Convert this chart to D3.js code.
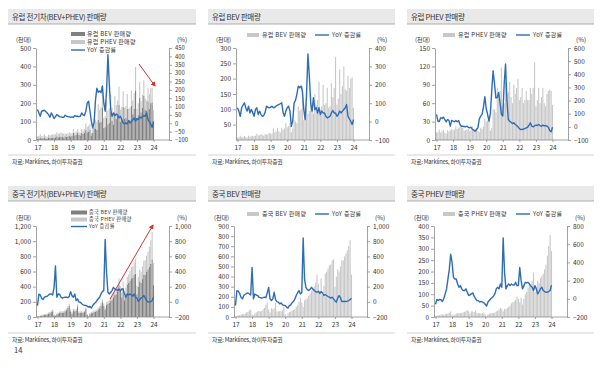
<!DOCTYPE html>
<html><head><meta charset="utf-8">
<script src="https://cdn.jsdelivr.net/npm/d3@7"></script>
<style>
body{margin:0;background:#fff}
svg{display:block}
text{font-family:"Noto Sans CJK KR","Noto Sans",sans-serif;fill:#333}
</style>
</head><body>
<svg id="c" width="600" height="367"></svg>
<script>
// ---------------- DATA ----------------
const months = d3.timeMonth.range(new Date(2017,0,1), new Date(2024,1,1)); // 2017-01 .. 2024-01
const yearLabels = ["17","18","19","20","21","22","23","24"];

// Europe, thousand units
const euBEV = [8,9,14,9,10,13,9,8,14,11,12,14,
  13,14,20,15,16,19,16,14,20,17,19,24,
  20,22,38,25,28,40,28,25,40,33,38,55,
  42,46,55,25,38,65,60,55,110,95,100,175,
  65,70,120,85,95,150,105,85,150,115,130,190,
  100,110,180,115,120,170,105,110,185,140,170,270,
  115,135,230,150,175,240,165,160,210,170,200,205,
  105];
const euPHEV = [12,13,17,12,14,17,12,10,16,14,16,18,
  16,17,22,18,20,22,21,20,15,16,17,18,
  15,16,22,16,17,20,15,13,20,18,22,35,
  30,32,35,15,20,50,50,45,85,70,80,118,
  55,60,95,75,78,95,70,60,90,75,85,100,
  65,70,85,60,65,80,65,65,85,75,85,127,
  55,65,85,60,70,85,60,55,75,80,82,80,
  57];
// YoY, %
const euTotalYoY = [82,62,42,72,75,78,70,62,52,36,62,48,
  28,40,52,46,40,38,36,35,48,42,40,38,
  36,38,35,46,42,42,40,42,62,50,46,72,
  120,132,72,12,-28,5,140,210,185,193,183,223,
  120,72,193,410,233,82,42,62,45,55,50,32,
  42,22,2,-4,2,-4,16,2,8,20,32,12,
  28,22,36,32,40,46,42,62,22,8,-5,-24,
  8];
const euBEVYoY = [75,57,29,75,90,102,75,57,84,47,66,50,
  29,66,75,38,57,38,29,33,50,84,78,75,
  78,84,75,78,84,90,93,97,102,50,29,57,
  75,84,57,-26,5,102,115,148,193,184,193,166,
  66,11,148,367,248,102,57,130,66,75,47,75,
  38,57,47,47,29,20,24,29,47,60,47,47,
  29,38,57,47,57,66,75,93,29,15,2,-16,
  11];
const euPHEVYoY = [95,43,40,69,64,74,56,38,56,49,5,49,
  43,38,49,38,49,18,5,5,3,0,5,-3,
  -8,-3,-20,-25,-33,-20,-8,60,82,95,150,230,
  140,95,43,100,274,427,330,220,223,261,184,95,
  82,325,478,200,56,43,35,25,31,18,10,0,
  -13,-20,-20,-16,-13,-8,-3,13,31,5,0,8,
  13,10,18,10,5,13,8,10,5,-3,-28,-38,
  -3];

// China, thousand units
const cnBEV = [5,8,14,18,22,28,30,35,45,50,65,75,
  22,15,35,45,55,60,55,60,75,90,120,145,
  75,45,85,75,85,140,55,55,60,55,65,105,
  30,8,40,50,55,65,70,80,100,115,150,195,
  145,100,165,175,185,210,230,260,290,300,340,420,
  330,260,380,220,310,430,450,480,510,520,560,570,
  300,400,470,450,500,560,560,600,630,660,700,760,
  420];
const cnPHEV = [4,5,7,8,10,11,10,12,14,15,19,24,
  10,6,12,15,17,18,17,18,20,22,26,30,
  25,15,25,25,22,28,18,18,17,15,17,20,
  10,3,12,15,16,18,17,20,25,28,33,40,
  35,25,35,35,40,45,50,60,65,68,75,90,
  80,65,85,55,80,100,110,130,150,145,160,195,
  110,130,160,150,170,180,190,210,230,270,310,360,
  290];
const cnTotalYoY = [-50,100,91,48,30,61,70,74,91,104,104,91,
  191,474,61,104,100,61,48,55,61,61,55,74,
  135,80,61,104,17,39,-4,-4,-26,-39,-45,-48,
  -57,-70,-60,-83,-48,-26,-10,17,40,61,104,135,
  150,822,387,126,104,126,148,191,170,160,150,170,
  140,170,170,104,61,104,90,104,90,74,104,61,
  48,4,30,48,61,83,50,17,-4,0,0,17,
  61];
const cnBEVYoY = [-48,148,140,110,60,39,83,100,110,117,104,91,
  452,39,104,90,83,60,55,48,55,61,55,120,
  191,40,17,39,126,30,4,-4,-26,-15,-39,-45,
  -48,-70,-83,-50,-39,-10,4,39,83,120,148,104,
  120,843,300,191,160,148,165,191,170,150,135,126,
  140,110,135,120,83,95,83,70,61,50,61,39,
  15,-4,48,83,55,4,4,4,4,10,17,30,
  48];
const cnPHEVYoY = [-60,-7,-18,-7,-10,-29,0,54,109,217,326,489,
  399,236,217,217,163,127,145,109,91,91,109,72,
  36,43,55,65,29,0,-18,-20,-36,-29,-36,-43,
  -60,-80,-36,-18,0,15,29,54,109,127,109,163,
  127,670,290,109,145,163,145,163,152,152,181,145,
  145,344,199,109,145,181,174,181,163,140,127,91,
  145,109,54,80,109,127,91,80,72,72,80,91,
  150];

// ---------------- STYLE ----------------
const C = {blue:"#2e6db4", light:"#c8c8c8", dark:"#808080", axis:"#8c8c8c", band:"#e9e9e9", red:"#d0342c"};
const NUM = '"Liberation Sans",Arial,sans-serif';

const svg = d3.select("#c");

function panel(cfg){
  const g = svg.append("g");
  const x0 = cfg.x0, yt = cfg.yt, yb = cfg.yb;
  const idx = d3.range(months.length);
  const x = d3.scalePoint().domain(idx).range([x0+1.5, x0+117.5]);
  const yL = d3.scaleLinear().domain(cfg.left).range([yb, yt]);
  const yR = d3.scaleLinear().domain(cfg.right).range([yb, yt]);

  // title band
  g.append("rect").attr("x", cfg.bx).attr("y", cfg.by).attr("width", cfg.bw).attr("height", 15).attr("fill", C.band);
  g.append("line").attr("x1", cfg.bx).attr("x2", cfg.bx+cfg.bw).attr("y1", cfg.by+15).attr("y2", cfg.by+15).attr("stroke","#9a9a9a").attr("stroke-width",0.8);
  g.append("text").attr("x", cfg.bx+4).attr("y", cfg.by+10.5).attr("font-size", 7.5).attr("letter-spacing",-0.3).attr("fill","#222").text(cfg.title);

  // bars (stacked)
  const rows = idx.map(i => { const o = {i}; cfg.series.forEach(s => o[s.key] = s.values[i]); return o; });
  const stack = d3.stack().keys(cfg.series.map(s => s.key))(rows);
  const bw = 1.1;
  stack.forEach((layer, k) => {
    g.append("g").attr("fill", cfg.series[k].color)
      .selectAll("rect").data(layer).join("rect")
      .attr("x", d => x(d.data.i) - bw/2).attr("width", bw)
      .attr("y", d => yL(d[1])).attr("height", d => yL(d[0]) - yL(d[1]));
  });

  // axes
  const fmt = d3.format(",");
  const aL = g.append("g").attr("transform", `translate(${x0},0)`)
    .call(d3.axisLeft(yL).tickValues(cfg.leftTicks).tickSize(3).tickSizeOuter(0).tickPadding(2).tickFormat(fmt));
  const aR = g.append("g").attr("transform", `translate(${x0+133},0)`)
    .call(d3.axisRight(yR).tickValues(cfg.rightTicks).tickSize(3).tickSizeOuter(0).tickPadding(3).tickFormat(fmt));
  const aB = g.append("g").attr("transform", `translate(0,${yb})`)
    .call(d3.axisBottom(x).tickValues(d3.range(0, months.length, 12)).tickSize(2).tickSizeOuter(0).tickPadding(3)
      .tickFormat(i => yearLabels[i/12]));
  aB.select(".domain").remove();
  g.append("line").attr("x1", x0).attr("x2", x0+133).attr("y1", yb).attr("y2", yb).attr("stroke", C.axis).attr("stroke-width",0.8);
  [aL,aR,aB].forEach(a => {
    a.selectAll(".domain").attr("stroke", C.axis).attr("stroke-width",0.8);
    a.selectAll(".tick line").attr("stroke", C.axis).attr("stroke-width",0.8);
    a.selectAll("text").attr("font-size", 6.5).attr("fill","#333").attr("font-family", NUM);
  });
  if (cfg.rightFs) aR.selectAll("text").attr("font-size", cfg.rightFs);

  // units
  g.append("text").attr("x", x0-20).attr("y", yt-6).attr("font-size", 6).text("(천대)");
  g.append("text").attr("x", x0+141).attr("y", yt-6).attr("font-size", 6.3).attr("font-family", NUM).text("(%)");

  // line
  g.append("path").datum(cfg.line).attr("fill","none").attr("stroke", C.blue).attr("stroke-width",1.4)
    .attr("stroke-linejoin","round")
    .attr("d", d3.line().x((v,i) => x(i)).y(v => yR(v)));

  // legend
  if (cfg.legendRows) {
    const L = cfg.legendRows, fs = L.fs;
    cfg.series.forEach((s,k) => {
      g.append("rect").attr("x", L.x).attr("y", L.y[k]-2).attr("width", L.w).attr("height", 4).attr("fill", s.color);
      g.append("text").attr("x", L.x+L.w+2).attr("y", L.y[k]+fs*0.35).attr("font-size", fs).attr("letter-spacing",0.3).text(s.label);
    });
    const yy = L.y[cfg.series.length];
    g.append("line").attr("x1", L.x).attr("x2", L.x+L.w).attr("y1", yy).attr("y2", yy).attr("stroke", C.blue).attr("stroke-width",1.4);
    g.append("text").attr("x", L.x+L.w+2).attr("y", yy+fs*0.35).attr("font-size", fs).attr("letter-spacing",0.3).text("YoY 증감률");
  } else {
    const L = cfg.legendRow, fs = 6;
    g.append("rect").attr("x", L.x).attr("y", L.y-2).attr("width", 12).attr("height", 4).attr("fill", cfg.series[0].color);
    g.append("text").attr("x", L.x+15).attr("y", L.y+2).attr("font-size", fs).attr("letter-spacing",0.3).text(cfg.series[0].label);
    g.append("line").attr("x1", L.x2).attr("x2", L.x2+14).attr("y1", L.y).attr("y2", L.y).attr("stroke", C.blue).attr("stroke-width",1.4);
    g.append("text").attr("x", L.x2+17).attr("y", L.y+2).attr("font-size", fs).attr("letter-spacing",0.3).text("YoY 증감률");
  }

  // separator + source
  g.append("line").attr("x1", cfg.bx).attr("x2", cfg.bx+cfg.bw).attr("y1", cfg.sy-7).attr("y2", cfg.sy-7).attr("stroke","#c8c8c8").attr("stroke-width",0.8);
  g.append("text").attr("x", cfg.bx+4).attr("y", cfg.sy+2).attr("font-size", 5.8).attr("letter-spacing",-0.2).text("자료: Marklines, 하이투자증권");

  if (cfg.arrow) {
    const a = cfg.arrow;
    g.append("line").attr("x1", a[0]).attr("y1", a[1]).attr("x2", a[2]).attr("y2", a[3])
      .attr("stroke", C.red).attr("stroke-width", 1).attr("marker-end", "url(#arrowHead)");
  }
}

svg.append("defs").append("marker").attr("id","arrowHead").attr("viewBox","0 0 10 10").attr("refX",8).attr("refY",5)
  .attr("markerWidth",5).attr("markerHeight",5).attr("orient","auto")
  .append("path").attr("d","M0,0L10,5L0,10z").attr("fill", C.red);

const rowTop = {yt:48, yb:140, by:9, sy:162};
const rowBot = {yt:226, yb:317, by:186, sy:340};

panel({...rowTop, x0:36, bx:8, bw:188, title:"유럽 전기차(BEV+PHEV) 판매량",
  series:[{key:"bev", values:euBEV, color:C.dark, label:"유럽 BEV 판매량"},{key:"phev", values:euPHEV, color:C.light, label:"유럽 PHEV 판매량"}],
  line:euTotalYoY, left:[0,500], leftTicks:[0,100,200,300,400,500], right:[-100,450], rightTicks:d3.range(-100,451,50), rightFs:5.8,
  legendRows:{x:71, w:14, y:[34,42,50], fs:6}, arrow:[139,64,155,86]});
panel({...rowTop, x0:236, bx:208, bw:187, title:"유럽 BEV 판매량",
  series:[{key:"bev", values:euBEV, color:C.light, label:"유럽 BEV 판매량"}],
  line:euBEVYoY, left:[0,300], leftTicks:[50,100,150,200,250,300], right:[-100,400], rightTicks:d3.range(-100,401,100),
  legendRow:{x:247, x2:315, y:35}});
panel({...rowTop, x0:435, bx:407, bw:187, title:"유럽 PHEV 판매량",
  series:[{key:"phev", values:euPHEV, color:C.light, label:"유럽 PHEV 판매량"}],
  line:euPHEVYoY, left:[0,150], leftTicks:[0,30,60,90,120,150], right:[-100,600], rightTicks:d3.range(-100,601,100),
  legendRow:{x:443, x2:516, y:35}});
panel({...rowBot, x0:36, bx:8, bw:188, title:"중국 전기차(BEV+PHEV) 판매량",
  series:[{key:"bev", values:cnBEV, color:C.dark, label:"중국 BEV 판매량"},{key:"phev", values:cnPHEV, color:C.light, label:"중국 PHEV 판매량"}],
  line:cnTotalYoY, left:[0,1200], leftTicks:d3.range(0,1201,200), right:[-200,1000], rightTicks:d3.range(-200,1001,200),
  legendRows:{x:71, w:16, y:[212.5,219.5,226.5], fs:5.2}, arrow:[110,299,153,225]});
panel({...rowBot, x0:234, bx:208, bw:187, title:"중국 BEV 판매량",
  series:[{key:"bev", values:cnBEV, color:C.light, label:"중국 BEV 판매량"}],
  line:cnBEVYoY, left:[0,900], leftTicks:d3.range(0,901,100), right:[-200,1000], rightTicks:d3.range(-200,1001,200),
  legendRow:{x:247, x2:315, y:214}});
panel({...rowBot, x0:434, bx:407, bw:187, title:"중국 PHEV 판매량",
  series:[{key:"phev", values:cnPHEV, color:C.light, label:"중국 PHEV 판매량"}],
  line:cnPHEVYoY, left:[0,400], leftTicks:d3.range(0,401,50), right:[-200,800], rightTicks:d3.range(-200,801,200),
  legendRow:{x:443, x2:516, y:214}});

svg.append("text").attr("x", 14).attr("y", 353).attr("font-size", 7.5).attr("font-family", NUM).text("14");
</script>
</body></html>
